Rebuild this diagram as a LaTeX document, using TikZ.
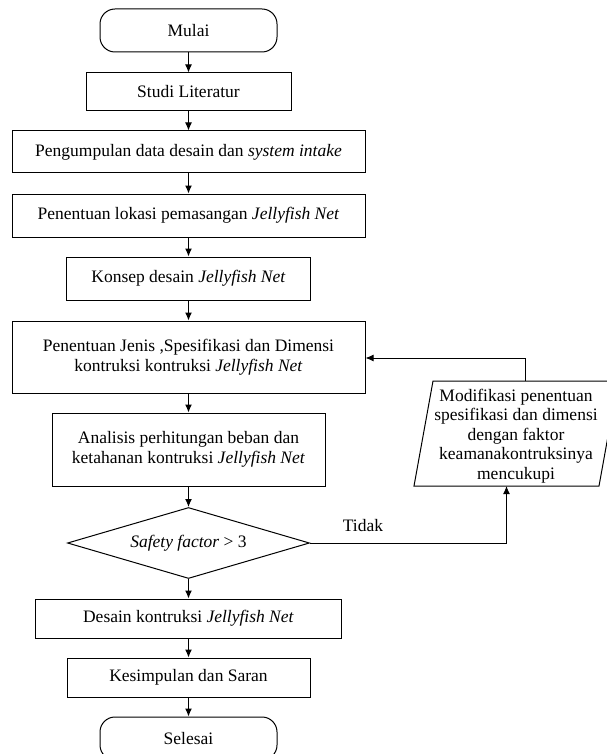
\documentclass[tikz,border=0pt]{standalone}
\usepackage{fontspec}
\setmainfont{Liberation Serif}
\usetikzlibrary{shapes.geometric,arrows.meta}
\begin{document}
\begin{tikzpicture}[x=1pt,y=-1pt,
  every node/.style={font=\fontsize{17.5}{19.5}\selectfont},
  box/.style={draw,line width=1pt,rectangle,inner sep=0pt,align=center},
  term/.style={box,rounded corners=15pt},
  decide/.style={draw,line width=1pt,diamond,aspect=3.4,inner sep=0pt,minimum width=242pt,minimum height=71pt},
  arr/.style={line width=1pt,-{Latex[length=8pt,width=7pt]}},
  ln/.style={line width=1pt}]
\fill[white] (0,0) rectangle (606,754);
\useasboundingbox (0,0) rectangle (606,754);
\node[term,minimum width=177pt,minimum height=43pt] (mulai) at (188.5,30.5) {Mulai};
\node[box,minimum width=205pt,minimum height=38pt] (studi) at (188.5,92) {Studi Literatur};
\node[box,minimum width=353pt,minimum height=42pt] (data) at (188.5,152) {Pengumpulan data desain dan \textit{system intake}};
\node[box,minimum width=353pt,minimum height=43pt] (lokasi) at (188.5,215.5) {Penentuan lokasi pemasangan \textit{Jellyfish Net}};
\node[box,minimum width=244pt,minimum height=43pt] (konsep) at (188.5,278.5) {Konsep desain \textit{Jellyfish Net}};
\node[box,minimum width=353pt,minimum height=72pt] (jenis) at (188.5,357) {Penentuan Jenis ,Spesifikasi dan Dimensi\\kontruksi kontruksi \textit{Jellyfish Net}};
\node[box,minimum width=273pt,minimum height=73pt] (analisis) at (188.5,449.5) {Analisis perhitungan beban dan\\ketahanan kontruksi \textit{Jellyfish Net}};
\node[decide] (sf) at (188.5,543) {\textit{Safety factor} > 3};
\node[box,minimum width=306pt,minimum height=39pt] (desain) at (188.5,618.5) {Desain kontruksi \textit{Jellyfish Net}};
\node[box,minimum width=243pt,minimum height=39pt] (kesimpulan) at (188.5,677.5) {Kesimpulan dan Saran};
\node[term,minimum width=177pt,minimum height=43pt] (selesai) at (188.5,738.5) {Selesai};
% parallelogram
\node[align=center,inner sep=0pt] (mod) at (516,436) {Modifikasi penentuan\\spesifikasi dan dimensi\\dengan faktor\\keamanakontruksinya\\mencukupi};
\coordinate (mtl) at (433,381);
\coordinate (mtr) at (618,381);
\coordinate (mbr) at (599,486);
\coordinate (mbl) at (414,486);
\coordinate (modtop) at (525.5,381);
\coordinate (modbot) at (506.5,486);
\draw[ln] (mtl) -- (mtr) -- (mbr) -- (mbl) -- cycle;
\node[inner sep=0pt] (tidak) at (363,526) {Tidak};
% connectors
\draw[arr] (mulai) -- (studi);
\draw[arr] (studi) -- (data);
\draw[arr] (data) -- (lokasi);
\draw[arr] (lokasi) -- (konsep);
\draw[arr] (konsep) -- (jenis);
\draw[arr] (jenis) -- (analisis);
\draw[arr] (analisis) -- (sf);
\draw[arr] (sf) -- (desain);
\draw[arr] (desain) -- (kesimpulan);
\draw[arr] (kesimpulan) -- (selesai);
\draw[arr] (sf.east) -| (modbot);
\draw[arr] (modtop) |- (jenis.east |- 0,358);
\end{tikzpicture}
\end{document}
